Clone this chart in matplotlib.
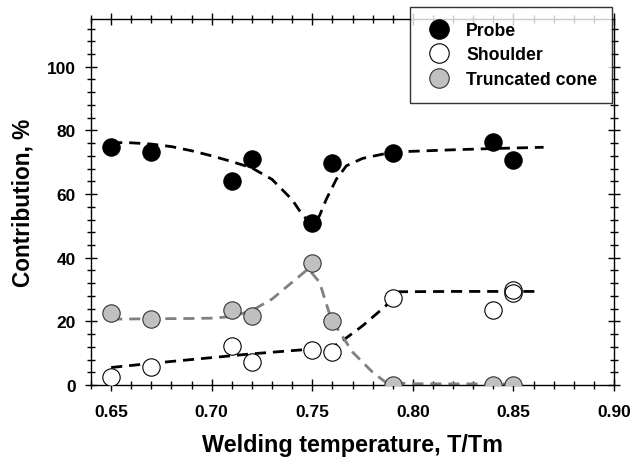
import matplotlib
matplotlib.use("Agg")
import matplotlib.pyplot as plt
from matplotlib.ticker import MultipleLocator

plt.rcParams['font.family'] = ['Liberation Sans', 'DejaVu Sans']
plt.rcParams['font.weight'] = 'bold'

# measured contributions vs homologous welding temperature
temp = [0.65, 0.67, 0.71, 0.72, 0.75, 0.76, 0.79, 0.84, 0.85]
probe = [74.8, 73.3, 64.2, 70.9, 51.0, 69.9, 72.8, 76.4, 70.7]
shoulder = [2.6, 5.8, 12.4, 7.3, 11.0, 10.3, 27.2, 23.7, 29.9]
cone = [22.6, 20.7, 23.6, 21.7, 38.2, 20.2, 0.1, 0.1, 0.1]

# repeated shoulder run at 0.85
temp_rep = [0.85]
shoulder_rep = [28.9]

# trend lines
probe_fit_t = [0.65, 0.66, 0.67, 0.68, 0.69, 0.70, 0.71, 0.72, 0.73, 0.74,
               0.745, 0.750, 0.7536, 0.757, 0.762, 0.767, 0.775, 0.79, 0.82, 0.84, 0.865]
probe_fit = [76.2, 76.1, 75.7, 74.9, 73.6, 72.0, 70.2, 68.2, 64.6, 58.2,
             53.5, 50.3, 53.2, 58.4, 64.7, 68.9, 71.2, 73.2, 73.9, 74.3, 74.7]

shoulder_fit_t = [0.65, 0.67, 0.70, 0.72, 0.75, 0.76, 0.765, 0.775, 0.7866, 0.7932, 0.82, 0.8633]
shoulder_fit = [5.5, 6.8, 8.6, 9.8, 11.3, 11.9, 13.9, 18.6, 24.9, 29.3, 29.4, 29.4]

cone_fit_t = [0.65, 0.67, 0.69, 0.70, 0.71, 0.72, 0.73, 0.74, 0.748, 0.7536,
              0.7594, 0.7701, 0.780, 0.7866, 0.80, 0.8498]
cone_fit = [20.7, 20.8, 20.9, 21.0, 21.5, 23.4, 27.0, 32.3, 36.5, 32.3,
            20.7, 10.3, 4.0, 0.8, 0.4, 0.3]

fig = plt.figure(figsize=(6.37, 4.64), dpi=100)
ax = fig.add_axes([0.1429, 0.1681, 0.821, 0.7888])

dash = (0, (4, 2.5))
ax.plot(probe_fit_t, probe_fit, color='black', lw=2.0, ls=dash, zorder=2)
ax.plot(shoulder_fit_t, shoulder_fit, color='black', lw=2.0, ls=dash, zorder=2)
ax.plot(cone_fit_t, cone_fit, color='#808080', lw=2.0, ls=dash, zorder=2)

ms = 12.5
ax.plot(temp, probe, 'o', ms=ms, mfc='black', mec='black', mew=0.8, label='Probe', zorder=3)
ax.plot(temp, shoulder, 'o', ms=ms, mfc='white', mec='black', mew=0.8, label='Shoulder', zorder=3)
ax.plot(temp_rep, shoulder_rep, 'o', ms=ms, mfc='none', mec='black', mew=0.8, zorder=3)
ax.plot(temp, cone, 'o', ms=ms, mfc='#c0c0c0', mec='#333333', mew=0.8, label='Truncated cone', zorder=3)

ax.set_xlim(0.64, 0.90)
ax.set_ylim(0, 115)
ax.xaxis.set_minor_locator(MultipleLocator(0.01))
ax.yaxis.set_minor_locator(MultipleLocator(4))
ax.set_xticks([0.65, 0.70, 0.75, 0.80, 0.85, 0.90])
ax.set_xticklabels(['0.65', '0.70', '0.75', '0.80', '0.85', '0.90'])
ax.set_yticks([0, 20, 40, 60, 80, 100])

ax.tick_params(which='both', direction='inout', top=True, right=True,
               labelsize=12.5, width=1.0)
ax.tick_params(axis='x', pad=10)
ax.tick_params(axis='y', pad=7)
ax.tick_params(which='major', length=8)
ax.tick_params(which='minor', length=5.5)
for s in ax.spines.values():
    s.set_linewidth(1.0)

ax.set_xlabel('Welding temperature, T/Tm', fontsize=16.8, fontweight='bold', labelpad=10)
ax.set_ylabel('Contribution, %', fontsize=16.3, fontweight='bold', labelpad=9)

leg = fig.legend(loc='upper right', bbox_to_anchor=(0.961, 0.983),
                 bbox_transform=fig.transFigure, borderaxespad=0,
                 fontsize=12.7, frameon=True, fancybox=False, markerscale=1.12,
                 handlelength=1.5, handletextpad=0.8,
                 labelspacing=0.42, borderpad=0.85)
leg.get_frame().set_edgecolor('black')
leg.get_frame().set_linewidth(1.0)
leg.set_zorder(5)

fig.savefig('out.png', dpi=100)
